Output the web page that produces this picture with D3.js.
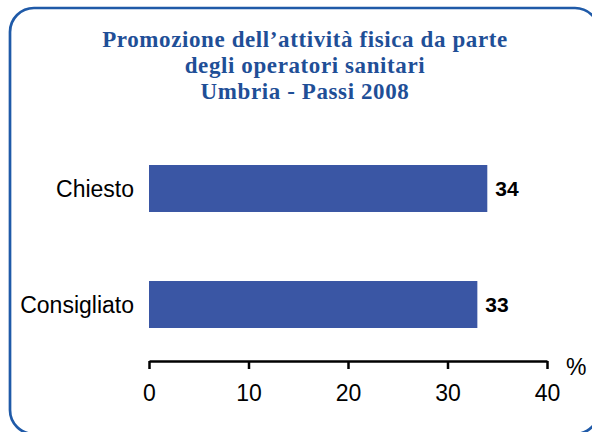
<!DOCTYPE html>
<html>
<head>
<meta charset="utf-8">
<script src="https://cdn.jsdelivr.net/npm/d3@7"></script>
<style>
  html, body { margin: 0; padding: 0; background: #fff; }
  svg { display: block; }
</style>
</head>
<body>
<svg id="chart" width="592" height="432"></svg>
<script>
// chart data
const categories = ['Chiesto', 'Consigliato'];
const values = [34, 33];
const ticks = [0, 10, 20, 30, 40];
const titleLines = [
  'Promozione dell\u2019attività fisica da parte',
  'degli operatori sanitari',
  'Umbria - Passi 2008'
];

const svg = d3.select('#chart');

// rounded frame, runs off the right and bottom edges like the original
svg.append('rect')
  .attr('x', 10).attr('y', 8)
  .attr('width', 589).attr('height', 426)
  .attr('rx', 24).attr('ry', 24)
  .attr('fill', 'none')
  .attr('stroke', '#1f5aa8')
  .attr('stroke-width', 2.7);

svg.append('g').selectAll('text')
  .data(titleLines)
  .enter().append('text')
  .attr('x', 305)
  .attr('y', (d, i) => 47 + i * 25.8)
  .attr('text-anchor', 'middle')
  .attr('font-family', '"Liberation Serif", "Times New Roman", serif')
  .attr('font-weight', 'bold')
  .attr('font-size', 23)
  .attr('letter-spacing', 0.6)
  .attr('fill', '#1f4f97')
  .text(d => d);

const x = d3.scaleLinear().domain([0, 40]).range([149, 547]);
const y = d3.scaleBand().domain(categories)
  .range([130.2, 362.8]).paddingInner(0.595).paddingOuter(0.3);

svg.append('g').selectAll('rect')
  .data(categories)
  .enter().append('rect')
  .attr('x', x(0))
  .attr('y', d => y(d))
  .attr('width', (d, i) => x(values[i]) - x(0))
  .attr('height', y.bandwidth())
  .attr('fill', '#3a56a4');

svg.append('g').selectAll('text')
  .data(categories)
  .enter().append('text')
  .attr('x', 134)
  .attr('y', d => y(d) + y.bandwidth() / 2)
  .attr('dy', '0.35em')
  .attr('text-anchor', 'end')
  .attr('font-family', '"Liberation Sans", Arial, sans-serif')
  .attr('font-size', 23)
  .attr('fill', '#000')
  .text(d => d);

svg.append('g').selectAll('text')
  .data(categories)
  .enter().append('text')
  .attr('x', (d, i) => x(values[i]) + 8)
  .attr('y', d => y(d) + y.bandwidth() / 2)
  .attr('dy', '0.36em')
  .attr('font-family', '"Liberation Sans", Arial, sans-serif')
  .attr('font-weight', 'bold')
  .attr('font-size', 21)
  .attr('fill', '#000')
  .text((d, i) => values[i]);

const axis = svg.append('g')
  .attr('transform', 'translate(0,361)')
  .call(d3.axisBottom(x).tickValues(ticks).tickSize(8).tickSizeOuter(0).tickPadding(16));
axis.select('.domain').attr('stroke', '#000').attr('stroke-width', 2.5);
axis.selectAll('.tick line').attr('stroke', '#000').attr('stroke-width', 2.5);
axis.selectAll('.tick text')
  .attr('font-family', '"Liberation Sans", Arial, sans-serif')
  .attr('font-size', 23)
  .attr('fill', '#000');

svg.append('text')
  .attr('x', 566).attr('y', 375)
  .attr('font-family', '"Liberation Sans", Arial, sans-serif')
  .attr('font-size', 23)
  .attr('fill', '#000')
  .text('%');
</script>
</body>
</html>
